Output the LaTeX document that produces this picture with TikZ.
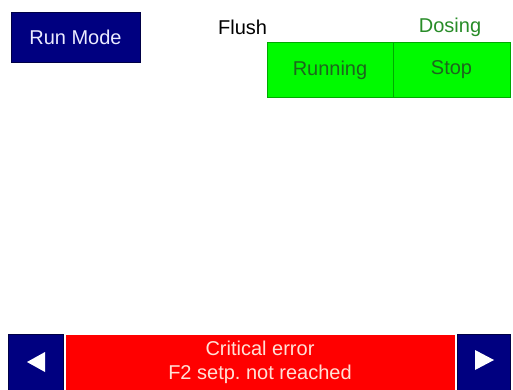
\documentclass[tikz,border=0pt]{standalone}
\usepackage{fontspec}
\setmainfont{Liberation Sans}
\definecolor{navy}{RGB}{0,0,128}
\definecolor{navyedge}{RGB}{0,0,70}
\definecolor{bright}{RGB}{0,250,0}
\definecolor{greenedge}{RGB}{0,170,0}
\definecolor{greentext}{RGB}{30,100,30}
\definecolor{dosetext}{RGB}{40,140,40}
\definecolor{errtext}{RGB}{255,225,215}
\begin{document}
\begin{tikzpicture}[x=1pt,y=-1pt,
  txt/.style={font=\fontsize{20}{24}\selectfont},
  navybox/.style={fill=navy,draw=navyedge,line width=0.8pt},
  greenbox/.style={fill=bright,draw=greenedge,line width=0.8pt},
  tri/.style={fill=white,draw=none}]
\useasboundingbox[fill=white] (0,0) rectangle (513,390);
% Run Mode
\draw[navybox] (11,12) rectangle (140,62);
\node[txt,text=white!92!blue] (runmode) at (75.5,37) {Run Mode};
% labels
\node[txt,anchor=west,inner sep=0pt] (flush) at (218,27) {Flush};
\node[txt,text=dosetext] (dosing) at (450,27) {Dosing};
% green buttons
\draw[greenbox] (267,42) rectangle (393,97);
\draw[greenbox] (393,42) rectangle (510,97);
\node[txt,text=greentext] (running) at (330,70) {Running};
\node[txt,text=greentext] (stop) at (451.5,70) {Stop};
% bottom bar
\draw[navybox] (8,334) rectangle (63,390);
\fill[red] (66,335) rectangle (455,390);
\draw[navybox] (457,334) rectangle (510,390);
\fill[tri] (45,352) -- (45,372) -- (27,362) -- cycle;
\fill[tri] (475,350) -- (475,370) -- (494,360) -- cycle;
\node[txt,text=errtext,align=center,inner sep=0pt] (err) at (260,362)
  {Critical error\\F2 setp.\ not reached};
\end{tikzpicture}
\end{document}
